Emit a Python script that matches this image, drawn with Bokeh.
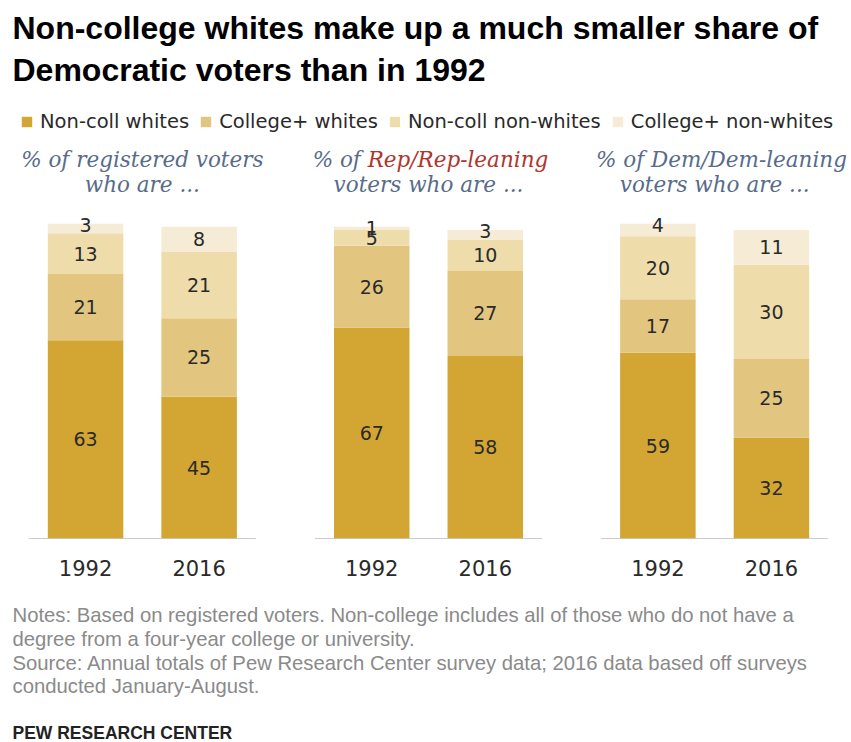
from bokeh.plotting import figure
from bokeh.models import ColumnDataSource, FactorRange, Range1d, Legend, LegendItem, Title
from bokeh.core.properties import value
from bokeh.embed import file_html
from bokeh.resources import INLINE

# ---------------- data ----------------
groups = ["reg", "rep", "dem"]
years = ["1992", "2016"]
series = ["Non-coll whites", "College+ whites", "Non-coll non-whites", "College+ non-whites"]
noncoll_whites = [63, 45, 67, 58, 59, 32]
college_whites = [21, 25, 26, 27, 17, 25]
noncoll_nonwhites = [13, 21, 5, 10, 20, 30]
college_nonwhites = [3, 8, 1, 3, 4, 11]
colors = ["#D3A532", "#E2C680", "#EEDDAB", "#F6ECD5"]

title_lines = ["Non-college whites make up a much smaller share of",
               "Democratic voters than in 1992"]
notes = ["Notes: Based on registered voters. Non-college includes all of those who do not have a",
         "degree from a four-year college or university.",
         "Source: Annual totals of Pew Research Center survey data; 2016 data based off surveys",
         "conducted January-August."]
credit = "PEW RESEARCH CENTER"

# ---------------- figure ----------------
factors = [(g, y) for g in groups for y in years]
x_range = FactorRange(*factors, factor_padding=0.0, subgroup_padding=0.0,
                      group_padding=0.52, range_padding=0.205,
                      range_padding_units="absolute")

p = figure(width=851, height=742, x_range=x_range, y_range=Range1d(0, 140.4),
           output_backend="svg", toolbar_location=None, y_axis_location=None,
           title=None, min_border_left=5, min_border_right=0,
           min_border_top=0, min_border_bottom=0)
p.outline_line_color = None
p.xgrid.visible = False
p.ygrid.visible = False

FONT = "Liberation Sans"
NUMFONT = "DejaVu Sans"

src = ColumnDataSource(data=dict(x=factors, nw=noncoll_whites, cw=college_whites,
                                 nn=noncoll_nonwhites, cn=college_nonwhites))
renderers = p.vbar_stack(["nw", "cw", "nn", "cn"], x="x", width=0.665,
                         color=colors, line_color=None, source=src)

# value labels
stacks = [noncoll_whites, college_whites, noncoll_nonwhites, college_nonwhites]
in_x, in_y, in_t, up_x, up_y, up_t = [], [], [], [], [], []
for i, f in enumerate(factors):
    bottom = 0
    for arr in stacks:
        v = arr[i]
        if v <= 4:
            up_x.append(f); up_y.append(bottom + v); up_t.append(str(v))
        else:
            in_x.append(f); in_y.append(bottom + v / 2); in_t.append(str(v))
        bottom += v
p.text(x="x", y="y", text="t", source=ColumnDataSource(dict(x=in_x, y=in_y, t=in_t)),
       text_align="center", text_baseline="middle", text_font=value(NUMFONT),
       text_font_size="19px", text_color="#2A2A2A")
p.text(x="x", y="y", text="t", source=ColumnDataSource(dict(x=up_x, y=up_y, t=up_t)),
       text_align="center", text_baseline="alphabetic", y_offset=1, text_font=value(NUMFONT),
       text_font_size="19px", text_color="#2A2A2A")

# baselines per panel
p.segment(x0="x0", x1="x1", y0=0, y1=0, line_color="#9A9A9A", line_width=1.2,
          source=ColumnDataSource(dict(x0=[[g, "1992", -0.5] for g in groups],
                                       x1=[[g, "2016", 0.5] for g in groups])))

# panel subtitles
SUBC = "#586C8A"
REPC = "#B0352D"
sub_font = value("DejaVu Serif")
def sub(xs, ys, ts, align, color):
    p.text(x="x", y="y", text="t", source=ColumnDataSource(dict(x=xs, y=ys, t=ts)),
           text_align=align, text_baseline="middle", text_font=sub_font,
           text_font_style="italic", text_font_size="21.5px", text_color=color)

Y1, Y2 = 120.4, 112.5
REP_SPLIT = 0.5 - 0.536
sub([["reg", "1992", 0.5], ["reg", "1992", 0.5], ["rep", "1992", 0.5],
     ["dem", "1992", 0.56], ["dem", "1992", 0.5]],
    [Y1, Y2, Y2, Y1, Y2],
    ["% of registered voters", "who are ...", "voters who are ...",
     "% of Dem/Dem-leaning", "voters who are ..."],
    "center", SUBC)
sub([["rep", "1992", REP_SPLIT]], [Y1], ["% of "], "right", SUBC)
sub([["rep", "1992", REP_SPLIT]], [Y1], ["Rep/Rep-leaning"], "left", REPC)

# x axis
ax = p.xaxis[0]
ax.axis_line_color = None
ax.major_tick_line_color = None
ax.minor_tick_line_color = None
ax.major_label_text_font = NUMFONT
ax.major_label_text_font_size = "21px"
ax.major_label_text_color = "#2A2A2A"
ax.major_label_standoff = 15
ax.group_text_font_size = "0px"
ax.group_text_color = None
ax.separator_line_color = None

# legend inside the frame, at its top
legend = Legend(items=[LegendItem(label=s, renderers=[r]) for s, r in zip(series, renderers)],
                orientation="horizontal", location=(15, 405),
                glyph_width=13, glyph_height=13, label_standoff=7, spacing=10,
                label_text_font=NUMFONT, label_text_font_size="19.5px",
                label_text_color="#2A2A2A", padding=2, margin=0,
                border_line_color=None, background_fill_alpha=0, label_height=20)
p.add_layout(legend)

# two-line title
p.add_layout(Title(text="\n".join(title_lines), align="left", offset=7, text_font=FONT,
                   text_font_style="bold", text_font_size="32px", text_line_height=1.175,
                   text_color="#000000", standoff=16), "above")

# notes below
p.add_layout(Title(text="\n".join(notes), align="left", offset=7, text_font=FONT,
                   text_font_style="normal", text_font_size="20.3px",
                   text_line_height=1.09, text_color="#8A8A8A", standoff=46), "below")
p.add_layout(Title(text=credit, align="left", offset=7, text_font=FONT,
                   text_font_style="bold", text_font_size="17.5px",
                   text_color="#222222", standoff=0), "below")

open("out.html", "w").write(file_html(p, INLINE))
